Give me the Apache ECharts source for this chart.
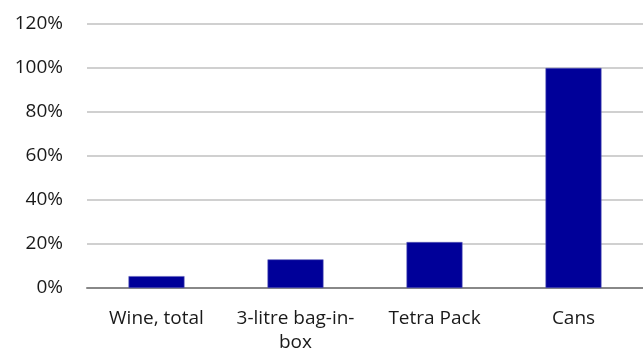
<!DOCTYPE html>
<html>
<head>
<meta charset="utf-8">
<script src="https://cdn.jsdelivr.net/npm/echarts@6/dist/echarts.min.js"></script>
<style>
  html, body { margin: 0; padding: 0; background: #fff; }
  #chart { width: 643px; height: 355px; }
</style>
</head>
<body>
<div id="chart"></div>
<script>
// Packaging categories and their share values (percent)
const categories = ['Wine, total', '3-litre bag-in-box', 'Tetra Pack', 'Cans'];
const shares = [5.4, 13.0, 20.9, 100];
// Value axis range and step (percent)
const yMin = 0;
const yMax = 120;
const yStep = 20;

const labelFont = '"Open Sans", "Noto Sans", sans-serif';

const chart = echarts.init(document.getElementById('chart'), null, { renderer: 'canvas' });
chart.setOption({
  animation: false,
  backgroundColor: '#ffffff',
  grid: { left: 87, top: 24, width: 560, height: 265, containLabel: false },
  xAxis: {
    type: 'category',
    data: categories,
    axisLine: { show: true, lineStyle: { color: '#888888', width: 2 } },
    axisTick: { show: false },
    axisLabel: {
      interval: 0,
      margin: 19,
      color: '#1a1a1a',
      fontFamily: labelFont,
      fontSize: 19,
      lineHeight: 24,
      formatter: v => v.replace('bag-in-box', 'bag-in-\nbox')
    }
  },
  yAxis: {
    type: 'value',
    min: yMin,
    max: yMax,
    interval: yStep,
    axisLine: { show: false },
    axisTick: { show: false },
    splitLine: { lineStyle: { color: '#c0c0c0', width: 1.5 } },
    axisLabel: {
      margin: 24,
      color: '#1a1a1a',
      fontFamily: labelFont,
      fontSize: 19,
      formatter: v => v + '%'
    }
  },
  series: [{
    type: 'bar',
    data: shares,
    barWidth: 56,
    itemStyle: { color: '#000099', borderColor: '#5a5ab8', borderWidth: 0.6 }
  }]
});
</script>
</body>
</html>
